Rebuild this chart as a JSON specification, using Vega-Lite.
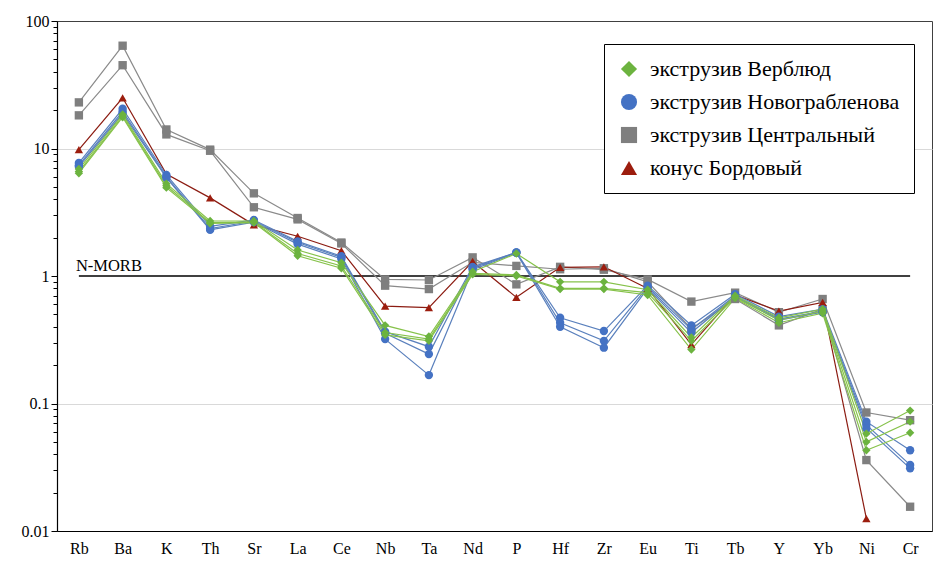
{
  "$schema": "https://vega.github.io/schema/vega-lite/v6.json",
  "autosize": {"type": "none"},
  "width": 875,
  "height": 510,
  "padding": {"left": 57, "top": 21, "right": 7, "bottom": 31},
  "background": "white",
  "config": {
    "view": {"stroke": "#404040", "strokeWidth": 1},
    "font": "Liberation Serif",
    "legend": {"orient": "none", "legendX": 547, "legendY": 23, "strokeColor": "#000000", "fillColor": "#ffffff", "padding": 14, "symbolSize": 260, "labelFont": "Liberation Serif", "labelFontSize": 22, "labelColor": "#000000", "rowPadding": 11, "labelOffset": 10, "symbolStrokeWidth": 0, "labelLimit": 400}
  },
  "datasets": {
    "d": [
      {"g":"экструзив Центральный","s":"C1","e":"Rb","v":23},{"g":"экструзив Центральный","s":"C1","e":"Ba","v":64},{"g":"экструзив Центральный","s":"C1","e":"K","v":14.1},{"g":"экструзив Центральный","s":"C1","e":"Th","v":9.8},{"g":"экструзив Центральный","s":"C1","e":"Sr","v":4.45},{"g":"экструзив Центральный","s":"C1","e":"La","v":2.85},{"g":"экструзив Центральный","s":"C1","e":"Ce","v":1.83},{"g":"экструзив Центральный","s":"C1","e":"Nb","v":0.94},{"g":"экструзив Центральный","s":"C1","e":"Ta","v":0.93},{"g":"экструзив Центральный","s":"C1","e":"Nd","v":1.4},{"g":"экструзив Центральный","s":"C1","e":"P","v":0.86},{"g":"экструзив Центральный","s":"C1","e":"Hf","v":1.18},{"g":"экструзив Центральный","s":"C1","e":"Zr","v":1.12},{"g":"экструзив Центральный","s":"C1","e":"Eu","v":0.94},{"g":"экструзив Центральный","s":"C1","e":"Ti","v":0.63},{"g":"экструзив Центральный","s":"C1","e":"Tb","v":0.74},{"g":"экструзив Центральный","s":"C1","e":"Y","v":0.52},{"g":"экструзив Центральный","s":"C1","e":"Yb","v":0.66},{"g":"экструзив Центральный","s":"C1","e":"Ni","v":0.085},{"g":"экструзив Центральный","s":"C1","e":"Cr","v":0.074},
      {"g":"экструзив Центральный","s":"C2","e":"Rb","v":18.2},{"g":"экструзив Центральный","s":"C2","e":"Ba","v":45},{"g":"экструзив Центральный","s":"C2","e":"K","v":12.9},{"g":"экструзив Центральный","s":"C2","e":"Th","v":9.6},{"g":"экструзив Центральный","s":"C2","e":"Sr","v":3.46},{"g":"экструзив Центральный","s":"C2","e":"La","v":2.78},{"g":"экструзив Центральный","s":"C2","e":"Ce","v":1.8},{"g":"экструзив Центральный","s":"C2","e":"Nb","v":0.84},{"g":"экструзив Центральный","s":"C2","e":"Ta","v":0.79},{"g":"экструзив Центральный","s":"C2","e":"Nd","v":1.28},{"g":"экструзив Центральный","s":"C2","e":"P","v":1.2},{"g":"экструзив Центральный","s":"C2","e":"Hf","v":1.13},{"g":"экструзив Центральный","s":"C2","e":"Zr","v":1.15},{"g":"экструзив Центральный","s":"C2","e":"Eu","v":0.9},{"g":"экструзив Центральный","s":"C2","e":"Ti","v":0.385},{"g":"экструзив Центральный","s":"C2","e":"Tb","v":0.66},{"g":"экструзив Центральный","s":"C2","e":"Y","v":0.41},{"g":"экструзив Центральный","s":"C2","e":"Yb","v":0.55},{"g":"экструзив Центральный","s":"C2","e":"Ni","v":0.036},{"g":"экструзив Центральный","s":"C2","e":"Cr","v":0.0155},
      {"g":"конус Бордовый","s":"B1","e":"Rb","v":9.8},{"g":"конус Бордовый","s":"B1","e":"Ba","v":25},{"g":"конус Бордовый","s":"B1","e":"K","v":6.3},{"g":"конус Бордовый","s":"B1","e":"Th","v":4.1},{"g":"конус Бордовый","s":"B1","e":"Sr","v":2.52},{"g":"конус Бордовый","s":"B1","e":"La","v":2.05},{"g":"конус Бордовый","s":"B1","e":"Ce","v":1.58},{"g":"конус Бордовый","s":"B1","e":"Nb","v":0.58},{"g":"конус Бордовый","s":"B1","e":"Ta","v":0.565},{"g":"конус Бордовый","s":"B1","e":"Nd","v":1.3},{"g":"конус Бордовый","s":"B1","e":"P","v":0.68},{"g":"конус Бордовый","s":"B1","e":"Hf","v":1.17},{"g":"конус Бордовый","s":"B1","e":"Zr","v":1.18},{"g":"конус Бордовый","s":"B1","e":"Eu","v":0.8},{"g":"конус Бордовый","s":"B1","e":"Ti","v":0.29},{"g":"конус Бордовый","s":"B1","e":"Tb","v":0.71},{"g":"конус Бордовый","s":"B1","e":"Y","v":0.53},{"g":"конус Бордовый","s":"B1","e":"Yb","v":0.62},{"g":"конус Бордовый","s":"B1","e":"Ni","v":0.0125},
      {"g":"экструзив Новограбленова","s":"N1","e":"Rb","v":7.7},{"g":"экструзив Новограбленова","s":"N1","e":"Ba","v":20.5},{"g":"экструзив Новограбленова","s":"N1","e":"K","v":6.2},{"g":"экструзив Новограбленова","s":"N1","e":"Th","v":2.45},{"g":"экструзив Новограбленова","s":"N1","e":"Sr","v":2.75},{"g":"экструзив Новограбленова","s":"N1","e":"La","v":1.87},{"g":"экструзив Новограбленова","s":"N1","e":"Ce","v":1.43},{"g":"экструзив Новограбленова","s":"N1","e":"Nb","v":0.366},{"g":"экструзив Новограбленова","s":"N1","e":"Ta","v":0.279},{"g":"экструзив Новограбленова","s":"N1","e":"Nd","v":1.18},{"g":"экструзив Новограбленова","s":"N1","e":"P","v":1.53},{"g":"экструзив Новограбленова","s":"N1","e":"Hf","v":0.47},{"g":"экструзив Новограбленова","s":"N1","e":"Zr","v":0.37},{"g":"экструзив Новограбленова","s":"N1","e":"Eu","v":0.84},{"g":"экструзив Новограбленова","s":"N1","e":"Ti","v":0.41},{"g":"экструзив Новограбленова","s":"N1","e":"Tb","v":0.72},{"g":"экструзив Новограбленова","s":"N1","e":"Y","v":0.48},{"g":"экструзив Новограбленова","s":"N1","e":"Yb","v":0.55},{"g":"экструзив Новограбленова","s":"N1","e":"Ni","v":0.072},{"g":"экструзив Новограбленова","s":"N1","e":"Cr","v":0.043},
      {"g":"экструзив Новограбленова","s":"N2","e":"Rb","v":7.4},{"g":"экструзив Новограбленова","s":"N2","e":"Ba","v":19.5},{"g":"экструзив Новограбленова","s":"N2","e":"K","v":6.0},{"g":"экструзив Новограбленова","s":"N2","e":"Th","v":2.35},{"g":"экструзив Новограбленова","s":"N2","e":"Sr","v":2.7},{"g":"экструзив Новограбленова","s":"N2","e":"La","v":1.83},{"g":"экструзив Новограбленова","s":"N2","e":"Ce","v":1.4},{"g":"экструзив Новограбленова","s":"N2","e":"Nb","v":0.355},{"g":"экструзив Новограбленова","s":"N2","e":"Ta","v":0.244},{"g":"экструзив Новограбленова","s":"N2","e":"Nd","v":1.15},{"g":"экструзив Новограбленова","s":"N2","e":"P","v":1.53},{"g":"экструзив Новограбленова","s":"N2","e":"Hf","v":0.43},{"g":"экструзив Новограбленова","s":"N2","e":"Zr","v":0.31},{"g":"экструзив Новограбленова","s":"N2","e":"Eu","v":0.82},{"g":"экструзив Новограбленова","s":"N2","e":"Ti","v":0.38},{"g":"экструзив Новограбленова","s":"N2","e":"Tb","v":0.7},{"g":"экструзив Новограбленова","s":"N2","e":"Y","v":0.46},{"g":"экструзив Новограбленова","s":"N2","e":"Yb","v":0.53},{"g":"экструзив Новограбленова","s":"N2","e":"Ni","v":0.068},{"g":"экструзив Новограбленова","s":"N2","e":"Cr","v":0.033},
      {"g":"экструзив Новограбленова","s":"N3","e":"Rb","v":7.2},{"g":"экструзив Новограбленова","s":"N3","e":"Ba","v":18.8},{"g":"экструзив Новограбленова","s":"N3","e":"K","v":5.9},{"g":"экструзив Новограбленова","s":"N3","e":"Th","v":2.3},{"g":"экструзив Новограбленова","s":"N3","e":"Sr","v":2.65},{"g":"экструзив Новограбленова","s":"N3","e":"La","v":1.78},{"g":"экструзив Новограбленова","s":"N3","e":"Ce","v":1.36},{"g":"экструзив Новограбленова","s":"N3","e":"Nb","v":0.32},{"g":"экструзив Новограбленова","s":"N3","e":"Ta","v":0.167},{"g":"экструзив Новограбленова","s":"N3","e":"Nd","v":1.12},{"g":"экструзив Новограбленова","s":"N3","e":"P","v":1.52},{"g":"экструзив Новограбленова","s":"N3","e":"Hf","v":0.4},{"g":"экструзив Новограбленова","s":"N3","e":"Zr","v":0.274},{"g":"экструзив Новограбленова","s":"N3","e":"Eu","v":0.8},{"g":"экструзив Новограбленова","s":"N3","e":"Ti","v":0.36},{"g":"экструзив Новограбленова","s":"N3","e":"Tb","v":0.69},{"g":"экструзив Новограбленова","s":"N3","e":"Y","v":0.45},{"g":"экструзив Новограбленова","s":"N3","e":"Yb","v":0.52},{"g":"экструзив Новограбленова","s":"N3","e":"Ni","v":0.064},{"g":"экструзив Новограбленова","s":"N3","e":"Cr","v":0.031},
      {"g":"экструзив Верблюд","s":"V1","e":"Rb","v":6.9},{"g":"экструзив Верблюд","s":"V1","e":"Ba","v":18.5},{"g":"экструзив Верблюд","s":"V1","e":"K","v":5.3},{"g":"экструзив Верблюд","s":"V1","e":"Th","v":2.7},{"g":"экструзив Верблюд","s":"V1","e":"Sr","v":2.7},{"g":"экструзив Верблюд","s":"V1","e":"La","v":1.6},{"g":"экструзив Верблюд","s":"V1","e":"Ce","v":1.27},{"g":"экструзив Верблюд","s":"V1","e":"Nb","v":0.41},{"g":"экструзив Верблюд","s":"V1","e":"Ta","v":0.335},{"g":"экструзив Верблюд","s":"V1","e":"Nd","v":1.08},{"g":"экструзив Верблюд","s":"V1","e":"P","v":1.5},{"g":"экструзив Верблюд","s":"V1","e":"Hf","v":0.9},{"g":"экструзив Верблюд","s":"V1","e":"Zr","v":0.9},{"g":"экструзив Верблюд","s":"V1","e":"Eu","v":0.78},{"g":"экструзив Верблюд","s":"V1","e":"Ti","v":0.33},{"g":"экструзив Верблюд","s":"V1","e":"Tb","v":0.7},{"g":"экструзив Верблюд","s":"V1","e":"Y","v":0.47},{"g":"экструзив Верблюд","s":"V1","e":"Yb","v":0.55},{"g":"экструзив Верблюд","s":"V1","e":"Ni","v":0.058},{"g":"экструзив Верблюд","s":"V1","e":"Cr","v":0.088},
      {"g":"экструзив Верблюд","s":"V2","e":"Rb","v":6.6},{"g":"экструзив Верблюд","s":"V2","e":"Ba","v":18.0},{"g":"экструзив Верблюд","s":"V2","e":"K","v":5.1},{"g":"экструзив Верблюд","s":"V2","e":"Th","v":2.62},{"g":"экструзив Верблюд","s":"V2","e":"Sr","v":2.65},{"g":"экструзив Верблюд","s":"V2","e":"La","v":1.5},{"g":"экструзив Верблюд","s":"V2","e":"Ce","v":1.2},{"g":"экструзив Верблюд","s":"V2","e":"Nb","v":0.36},{"g":"экструзив Верблюд","s":"V2","e":"Ta","v":0.32},{"g":"экструзив Верблюд","s":"V2","e":"Nd","v":1.05},{"g":"экструзив Верблюд","s":"V2","e":"P","v":1.02},{"g":"экструзив Верблюд","s":"V2","e":"Hf","v":0.8},{"g":"экструзив Верблюд","s":"V2","e":"Zr","v":0.8},{"g":"экструзив Верблюд","s":"V2","e":"Eu","v":0.74},{"g":"экструзив Верблюд","s":"V2","e":"Ti","v":0.31},{"g":"экструзив Верблюд","s":"V2","e":"Tb","v":0.68},{"g":"экструзив Верблюд","s":"V2","e":"Y","v":0.45},{"g":"экструзив Верблюд","s":"V2","e":"Yb","v":0.53},{"g":"экструзив Верблюд","s":"V2","e":"Ni","v":0.05},{"g":"экструзив Верблюд","s":"V2","e":"Cr","v":0.072},
      {"g":"экструзив Верблюд","s":"V3","e":"Rb","v":6.4},{"g":"экструзив Верблюд","s":"V3","e":"Ba","v":17.6},{"g":"экструзив Верблюд","s":"V3","e":"K","v":4.93},{"g":"экструзив Верблюд","s":"V3","e":"Th","v":2.58},{"g":"экструзив Верблюд","s":"V3","e":"Sr","v":2.62},{"g":"экструзив Верблюд","s":"V3","e":"La","v":1.44},{"g":"экструзив Верблюд","s":"V3","e":"Ce","v":1.15},{"g":"экструзив Верблюд","s":"V3","e":"Nb","v":0.345},{"g":"экструзив Верблюд","s":"V3","e":"Ta","v":0.31},{"g":"экструзив Верблюд","s":"V3","e":"Nd","v":1.03},{"g":"экструзив Верблюд","s":"V3","e":"P","v":1.0},{"g":"экструзив Верблюд","s":"V3","e":"Hf","v":0.79},{"g":"экструзив Верблюд","s":"V3","e":"Zr","v":0.79},{"g":"экструзив Верблюд","s":"V3","e":"Eu","v":0.71},{"g":"экструзив Верблюд","s":"V3","e":"Ti","v":0.265},{"g":"экструзив Верблюд","s":"V3","e":"Tb","v":0.67},{"g":"экструзив Верблюд","s":"V3","e":"Y","v":0.43},{"g":"экструзив Верблюд","s":"V3","e":"Yb","v":0.51},{"g":"экструзив Верблюд","s":"V3","e":"Ni","v":0.043},{"g":"экструзив Верблюд","s":"V3","e":"Cr","v":0.059}
    ],
    "morb": [{"a": "Rb", "b": "Cr", "v": 1, "t": "N-MORB"}]
  },
  "layer": [
    {
      "data": {"name": "morb"},
      "mark": {"type": "rule", "color": "#000000", "strokeWidth": 1.5},
      "encoding": {
        "x": {"field": "a", "type": "nominal",
              "scale": {"type": "point", "padding": 0.5, "domain": ["Rb","Ba","K","Th","Sr","La","Ce","Nb","Ta","Nd","P","Hf","Zr","Eu","Ti","Tb","Y","Yb","Ni","Cr"]},
              "axis": {"title": null, "ticks": false, "tickSize": 0, "labelAngle": 0, "labelFont": "Liberation Serif", "labelFontSize": 16, "labelColor": "#000000", "labelPadding": 9, "domainColor": "#000000", "domainWidth": 1.2, "grid": false}},
        "x2": {"field": "b"},
        "y": {"field": "v", "type": "quantitative",
              "scale": {"type": "log", "domain": [0.01, 100], "nice": false},
              "axis": {"title": null, "values": [0.01,0.02,0.03,0.04,0.05,0.06,0.07,0.08,0.09,0.1,0.2,0.3,0.4,0.5,0.6,0.7,0.8,0.9,1,2,3,4,5,6,7,8,9,10,20,30,40,50,60,70,80,90,100],
                       "labelExpr": "indexof([0.01,0.1,1,10,100], datum.value) >= 0 ? toString(datum.value) : ''",
                       "labelFont": "Liberation Serif", "labelFontSize": 16, "labelColor": "#000000", "labelPadding": 2,
                       "tickColor": "#000000",
                       "tickSize": {"condition": {"test": "indexof([0.01,0.1,1,10,100], datum.value) >= 0", "value": 6}, "value": 4},
                       "domainColor": "#000000", "domainWidth": 1.2,
                       "grid": true, "gridColor": "#d9d9d9",
                       "gridOpacity": {"condition": {"test": "datum.value == 0.1 || datum.value == 10", "value": 1}, "value": 0}}}
      }
    },
    {
      "data": {"name": "morb"},
      "mark": {"type": "text", "align": "left", "baseline": "bottom", "dx": -3, "dy": -2, "font": "Liberation Serif", "fontSize": 16.5, "color": "#000000"},
      "encoding": {
        "x": {"field": "a", "type": "nominal"},
        "y": {"field": "v", "type": "quantitative"},
        "text": {"field": "t"}
      }
    },
    {
      "data": {"name": "d"},
      "mark": {"type": "line", "strokeWidth": 1.2},
      "encoding": {
        "x": {"field": "e", "type": "nominal"},
        "y": {"field": "v", "type": "quantitative"},
        "detail": {"field": "s"},
        "stroke": {"field": "g", "type": "nominal",
                   "scale": {"domain": ["конус Бордовый","экструзив Верблюд","экструзив Новограбленова","экструзив Центральный"], "range": ["#8c1c12","#86c24a","#5a80bd","#8a8a8a"]},
                   "legend": null}
      }
    },
    {
      "data": {"name": "d"},
      "mark": {"type": "point", "filled": true, "opacity": 1, "size": 70},
      "encoding": {
        "x": {"field": "e", "type": "nominal"},
        "y": {"field": "v", "type": "quantitative"},
        "color": {"field": "g", "type": "nominal",
                 "scale": {"domain": ["экструзив Верблюд","экструзив Новограбленова","экструзив Центральный","конус Бордовый"], "range": ["#6cb33f","#4472c4","#7f7f7f","#9c1d0e"]},
                 "legend": {"title": null, "labelFont": "Liberation Serif", "labelFontSize": 22}},
        "shape": {"field": "g", "type": "nominal",
                  "scale": {"domain": ["экструзив Верблюд","экструзив Новограбленова","экструзив Центральный","конус Бордовый"], "range": ["diamond","circle","square","triangle-up"]},
                  "legend": {"title": null, "labelFont": "Liberation Serif", "labelFontSize": 22}}
      }
    }
  ]
}
